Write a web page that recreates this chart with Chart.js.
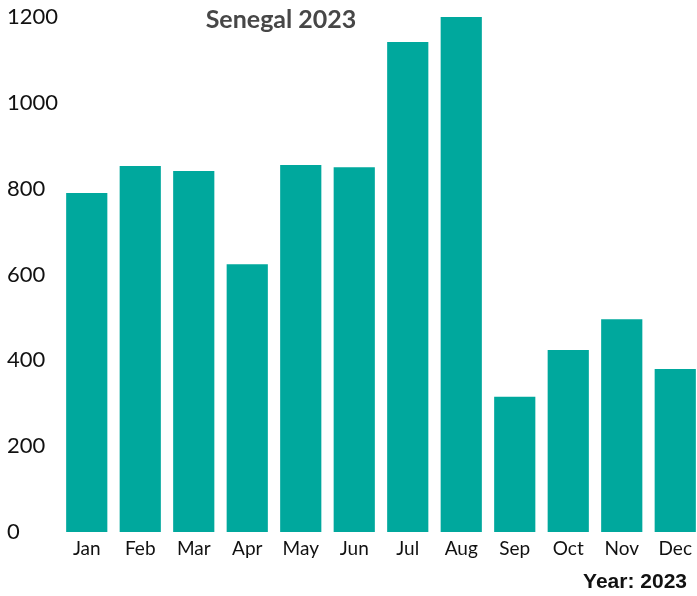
<!DOCTYPE html>
<html>
<head>
<meta charset="utf-8">
<script src="https://cdn.jsdelivr.net/npm/chart.js@4"></script>
<style>
  html, body { margin: 0; padding: 0; background: #fff; overflow: hidden; }
  #wrap { width: 697px; height: 596px; overflow: hidden; }
  #box { width: 702px; height: 596px; }
</style>
</head>
<body>
<div id="wrap"><div id="box"><canvas id="barChart"></canvas></div></div>
<script>
const months = ['Jan', 'Feb', 'Mar', 'Apr', 'May', 'Jun', 'Jul', 'Aug', 'Sep', 'Oct', 'Nov', 'Dec'];
const values = [790, 853, 841, 624, 855, 850, 1142, 1200, 315, 424, 496, 380];
const yTicks = [0, 200, 400, 600, 800, 1000, 1200];
const chartTitle = 'Senegal 2023';
const yearNote = 'Year: 2023';

// title and year note sit at fixed spots, not where chart.js would put them
const textPlugin = {
    id: 'textPlugin',
    afterDraw(chart) {
        const c = chart.ctx;
        c.save();
        c.textBaseline = 'middle';
        c.fillStyle = '#474747';
        c.font = 'bold 25px Lato';
        c.textAlign = 'center';
        c.fillText(chartTitle, 281, 20);
        c.fillStyle = '#111';
        c.font = 'bold 21px "Liberation Sans"';
        c.textAlign = 'right';
        c.fillText(yearNote, 687, 582);
        c.restore();
    }
};

const ctx = document.getElementById('barChart').getContext('2d');
const myChart = new Chart(ctx, {
    type: 'bar',
    data: {
        labels: months,
        datasets: [{
            data: values,
            backgroundColor: '#00A89D',
            borderWidth: 0,
            barPercentage: 0.77,
            categoryPercentage: 1
        }]
    },
    options: {
        responsive: true,
        maintainAspectRatio: false,
        animation: false,
        layout: { padding: { left: 7, top: 17, right: 0, bottom: 0 } },
        plugins: {
            legend: { display: false },
            tooltip: { enabled: false }
        },
        scales: {
            x: {
                grid: { display: false, drawTicks: false },
                border: { display: false },
                ticks: {
                    color: '#111',
                    font: { family: 'Lato', size: 19 },
                    padding: 5,
                    maxRotation: 0,
                    autoSkip: false
                },
                afterFit(scale) { scale.height = 64; }
            },
            y: {
                min: 0,
                max: 1200,
                grid: { display: false, drawTicks: false },
                border: { display: false },
                afterBuildTicks(scale) { scale.ticks = yTicks.map(v => ({ value: v })); },
                ticks: {
                    color: '#111',
                    font: { family: 'Lato', size: 22 },
                    crossAlign: 'far',
                    padding: 0,
                    callback: v => String(v)
                },
                afterFit(scale) { scale.width = 53; }
            }
        }
    },
    plugins: [textPlugin]
});
</script>
</body>
</html>
